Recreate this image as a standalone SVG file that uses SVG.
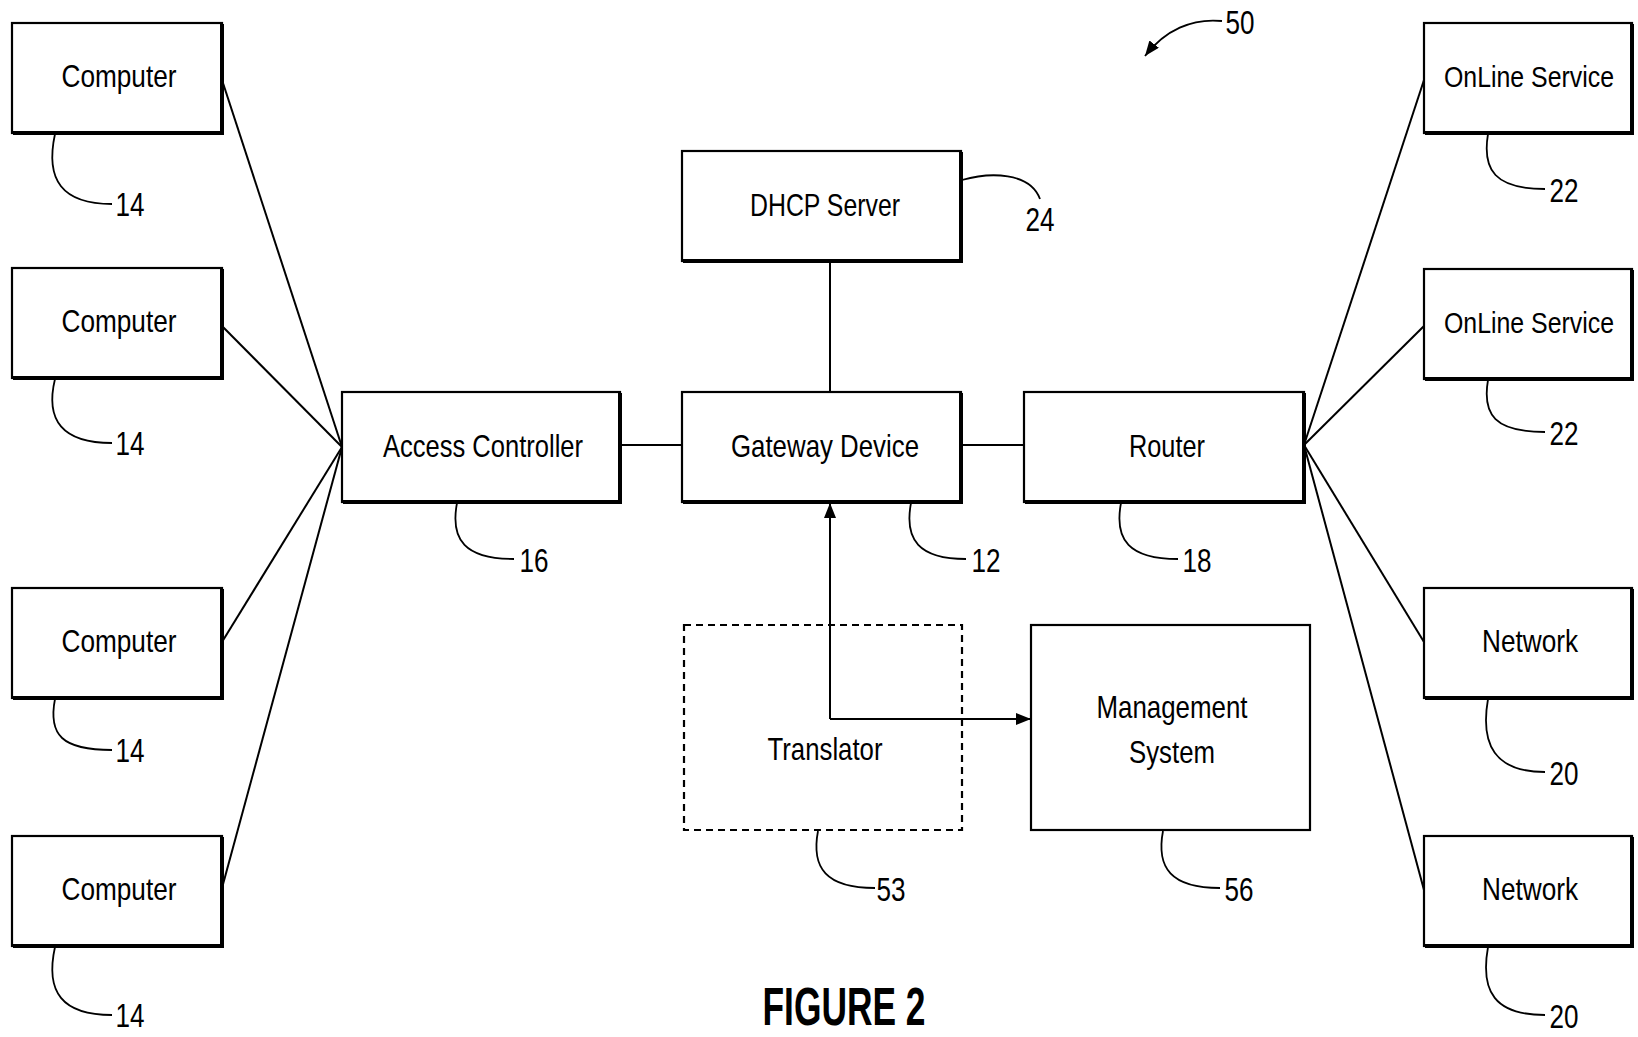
<svg xmlns="http://www.w3.org/2000/svg" width="1638" height="1037" viewBox="0 0 1638 1037">
<style>
.box{fill:#fff;stroke:#000;stroke-width:2.2}
.sh{fill:none;stroke:#000;stroke-width:4}
.dash{fill:#fff;stroke:#000;stroke-width:2.2;stroke-dasharray:7 5}
.ln{fill:none;stroke:#000;stroke-width:2}
.ld{fill:none;stroke:#000;stroke-width:1.8}
.t{font-family:"Liberation Sans Narrow","Liberation Sans",Arial,sans-serif;font-size:32px;text-anchor:middle;fill:#000}
.ts{font-family:"Liberation Sans Narrow","Liberation Sans",Arial,sans-serif;font-size:30px;text-anchor:middle;fill:#000}
.n{font-family:"Liberation Sans Narrow","Liberation Sans",Arial,sans-serif;font-size:33px;text-anchor:middle;fill:#000}
.fig{font-family:"Liberation Sans Narrow","Liberation Sans",Arial,sans-serif;font-size:54px;font-weight:bold;text-anchor:middle;fill:#000}
</style>
<defs>
<marker id="ah" viewBox="0 0 15 12" refX="15" refY="6" markerWidth="15" markerHeight="12" markerUnits="userSpaceOnUse" orient="auto">
<path d="M0,0 L15,6 L0,12 Z" fill="#000"/>
</marker>
</defs>
<rect width="1638" height="1037" fill="#fff"/>

<g id="connectors">
<line class="ln" x1="222" y1="80" x2="342" y2="447"/>
<line class="ln" x1="222" y1="326" x2="342" y2="447"/>
<line class="ln" x1="222" y1="642" x2="342" y2="447"/>
<line class="ln" x1="222" y1="888" x2="342" y2="447"/>
<line class="ln" x1="620" y1="445" x2="682" y2="445"/>
<line class="ln" x1="961" y1="445" x2="1024" y2="445"/>
<line class="ln" x1="830" y1="261" x2="830" y2="392"/>
<line class="ln" x1="1304" y1="445" x2="1424" y2="80"/>
<line class="ln" x1="1304" y1="445" x2="1424" y2="326"/>
<line class="ln" x1="1304" y1="445" x2="1424" y2="642"/>
<line class="ln" x1="1304" y1="445" x2="1424" y2="890"/>
<path class="ln" d="M830,719 L830,503" marker-end="url(#ah)"/>
<path class="ln" d="M830,719 L1031,719" marker-end="url(#ah)"/>
</g>

<g id="computer1">
<rect class="box" x="12" y="23" width="210" height="110"/>
<polyline class="sh" points="13,133 222,133 222,24"/>
<text class="t" x="119" y="87" textLength="115" lengthAdjust="spacingAndGlyphs">Computer</text>
<path class="ld" d="M55,134 C45,180 62,204 112,204"/>
<text class="n" x="130" y="216" textLength="29" lengthAdjust="spacingAndGlyphs">14</text>
</g>
<g id="computer2">
<rect class="box" x="12" y="268" width="210" height="110"/>
<polyline class="sh" points="13,378 222,378 222,269"/>
<text class="t" x="119" y="332" textLength="115" lengthAdjust="spacingAndGlyphs">Computer</text>
<path class="ld" d="M55,379 C45,420 62,443 112,443"/>
<text class="n" x="130" y="455" textLength="29" lengthAdjust="spacingAndGlyphs">14</text>
</g>
<g id="computer3">
<rect class="box" x="12" y="588" width="210" height="110"/>
<polyline class="sh" points="13,698 222,698 222,589"/>
<text class="t" x="119" y="652" textLength="115" lengthAdjust="spacingAndGlyphs">Computer</text>
<path class="ld" d="M55,699 C48,735 62,750 112,750"/>
<text class="n" x="130" y="762" textLength="29" lengthAdjust="spacingAndGlyphs">14</text>
</g>
<g id="computer4">
<rect class="box" x="12" y="836" width="210" height="110"/>
<polyline class="sh" points="13,946 222,946 222,837"/>
<text class="t" x="119" y="900" textLength="115" lengthAdjust="spacingAndGlyphs">Computer</text>
<path class="ld" d="M55,947 C45,992 62,1015 112,1015"/>
<text class="n" x="130" y="1027" textLength="29" lengthAdjust="spacingAndGlyphs">14</text>
</g>

<g id="access-controller">
<rect class="box" x="342" y="392" width="278" height="110"/>
<polyline class="sh" points="343,502 620,502 620,393"/>
<text class="t" x="483" y="457" textLength="200" lengthAdjust="spacingAndGlyphs">Access Controller</text>
<path class="ld" d="M457,503 C450,540 465,559 514,559"/>
<text class="n" x="534" y="572" textLength="29" lengthAdjust="spacingAndGlyphs">16</text>
</g>

<g id="gateway-device">
<rect class="box" x="682" y="392" width="279" height="110"/>
<polyline class="sh" points="683,502 961,502 961,393"/>
<text class="t" x="825" y="457" textLength="188" lengthAdjust="spacingAndGlyphs">Gateway Device</text>
<path class="ld" d="M911,503 C904,540 919,559 966,559"/>
<text class="n" x="986" y="572" textLength="29" lengthAdjust="spacingAndGlyphs">12</text>
</g>

<g id="router">
<rect class="box" x="1024" y="392" width="280" height="110"/>
<polyline class="sh" points="1025,502 1304,502 1304,393"/>
<text class="t" x="1167" y="457" textLength="76" lengthAdjust="spacingAndGlyphs">Router</text>
<path class="ld" d="M1121,503 C1114,540 1129,559 1178,559"/>
<text class="n" x="1197" y="572" textLength="29" lengthAdjust="spacingAndGlyphs">18</text>
</g>

<g id="dhcp-server">
<rect class="box" x="682" y="151" width="279" height="110"/>
<polyline class="sh" points="683,261 961,261 961,152"/>
<text class="t" x="825" y="216" textLength="150" lengthAdjust="spacingAndGlyphs">DHCP Server</text>
<path class="ld" d="M962,180 C990,172 1030,172 1040,199"/>
<text class="n" x="1040" y="231" textLength="29" lengthAdjust="spacingAndGlyphs">24</text>
</g>

<g id="translator">
<rect class="dash" x="684" y="625" width="278" height="205" fill-opacity="0"/>
<text class="t" x="825" y="760" textLength="115" lengthAdjust="spacingAndGlyphs">Translator</text>
<path class="ld" d="M818,831 C811,868 826,888 875,888"/>
<text class="n" x="891" y="901" textLength="29" lengthAdjust="spacingAndGlyphs">53</text>
</g>

<g id="management-system">
<rect class="box" x="1031" y="625" width="279" height="205"/>
<text class="t" x="1172" y="718" textLength="151" lengthAdjust="spacingAndGlyphs">Management</text>
<text class="t" x="1172" y="763" textLength="86" lengthAdjust="spacingAndGlyphs">System</text>
<path class="ld" d="M1163,831 C1156,868 1171,888 1220,888"/>
<text class="n" x="1239" y="901" textLength="29" lengthAdjust="spacingAndGlyphs">56</text>
</g>

<g id="online-service1">
<rect class="box" x="1424" y="23" width="208" height="110"/>
<polyline class="sh" points="1425,133 1632,133 1632,24"/>
<text class="ts" x="1529" y="87" textLength="170" lengthAdjust="spacingAndGlyphs">OnLine Service</text>
<path class="ld" d="M1488,134 C1482,170 1495,189 1545,189"/>
<text class="n" x="1564" y="202" textLength="29" lengthAdjust="spacingAndGlyphs">22</text>
</g>
<g id="online-service2">
<rect class="box" x="1424" y="269" width="208" height="110"/>
<polyline class="sh" points="1425,379 1632,379 1632,270"/>
<text class="ts" x="1529" y="333" textLength="170" lengthAdjust="spacingAndGlyphs">OnLine Service</text>
<path class="ld" d="M1488,380 C1482,415 1495,432 1545,432"/>
<text class="n" x="1564" y="445" textLength="29" lengthAdjust="spacingAndGlyphs">22</text>
</g>
<g id="network1">
<rect class="box" x="1424" y="588" width="208" height="110"/>
<polyline class="sh" points="1425,698 1632,698 1632,589"/>
<text class="t" x="1530" y="652" textLength="96" lengthAdjust="spacingAndGlyphs">Network</text>
<path class="ld" d="M1488,699 C1480,745 1495,772 1545,772"/>
<text class="n" x="1564" y="785" textLength="29" lengthAdjust="spacingAndGlyphs">20</text>
</g>
<g id="network2">
<rect class="box" x="1424" y="836" width="208" height="110"/>
<polyline class="sh" points="1425,946 1632,946 1632,837"/>
<text class="t" x="1530" y="900" textLength="96" lengthAdjust="spacingAndGlyphs">Network</text>
<path class="ld" d="M1488,947 C1480,992 1495,1015 1545,1015"/>
<text class="n" x="1564" y="1028" textLength="29" lengthAdjust="spacingAndGlyphs">20</text>
</g>

<g id="ref50">
<path class="ld" d="M1222,21 C1192,18 1165,30 1145,56" marker-end="url(#ah)"/>
<text class="n" x="1240" y="34" textLength="29" lengthAdjust="spacingAndGlyphs">50</text>
</g>

<text class="fig" x="844" y="1025" textLength="163" lengthAdjust="spacingAndGlyphs">FIGURE 2</text>
</svg>
